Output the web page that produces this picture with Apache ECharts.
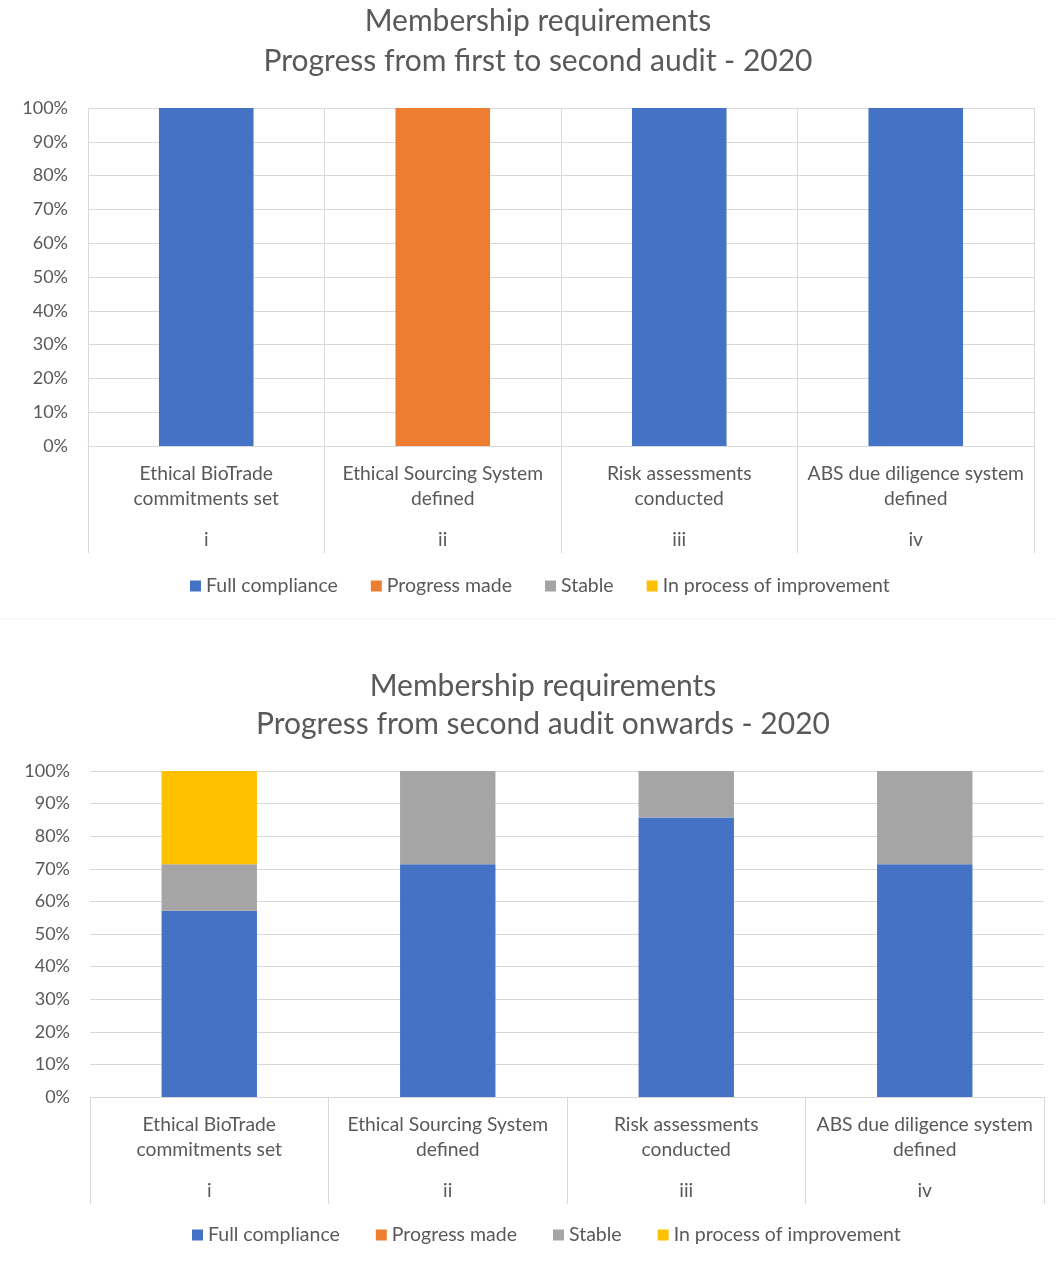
<!DOCTYPE html>
<html><head><meta charset="utf-8">
<script src="https://cdn.jsdelivr.net/npm/echarts@6/dist/echarts.min.js"></script>
<style>html,body{margin:0;padding:0;background:#fff}#c{width:1056px;height:1263px}</style>
</head><body><div id="c"></div>
<script>
const categories = ["Ethical BioTrade\ncommitments set","Ethical Sourcing System\ndefined","Risk assessments\nconducted","ABS due diligence system\ndefined"];
const romans = ["i","ii","iii","iv"];
const seriesNames = ["Full compliance","Progress made","Stable","In process of improvement"];
const colors = ["#4472C4","#ED7D31","#A5A5A5","#FFC000"];
const yTicks = [0,10,20,30,40,50,60,70,80,90,100];
// Chart 1: first to second audit
const c1Full = [100, null, 100, 100];
const c1Progress = [null, 100, null, null];
const c1Stable = [null, null, null, null];
const c1Improve = [null, null, null, null];
// Chart 2: second audit onwards
const c2Full = [57.14, 71.43, 85.71, 71.43];
const c2Progress = [null, null, null, null];
const c2Stable = [14.29, 28.57, 14.29, 28.57];
const c2Improve = [28.57, null, null, null];

const FONT = "Lato";
const TXT = "#595959";
const GRIDC = "#d9d9d9";

function xLabel(v, i) {
  const lines = v.split("\n").map(s => "{a|" + s + "}");
  return lines.join("\n") + "\n{b|" + romans[i] + "}";
}
function xAxis(gi, showSplit, margin) {
  return {
    type: "category", gridIndex: gi, data: categories,
    axisLine: {lineStyle: {color: GRIDC}},
    axisTick: {show: true, length: 107, lineStyle: {color: GRIDC}},
    splitLine: {show: showSplit, lineStyle: {color: GRIDC}},
    axisLabel: {interval: 0, margin: margin, formatter: xLabel,
      rich: {a: {fontFamily: FONT, fontSize: 19.3, color: TXT, lineHeight: 25},
             b: {fontFamily: FONT, fontSize: 19.3, color: TXT, lineHeight: 58}}}
  };
}
function yAxis(gi) {
  return {
    type: "value", gridIndex: gi, min: 0, max: 100, interval: 10,
    axisLine: {show: false}, axisTick: {show: false},
    splitLine: {lineStyle: {color: GRIDC}},
    axisLabel: {margin: 20, fontFamily: FONT, fontSize: 18, color: TXT,
      formatter: v => yTicks.includes(v) ? v + "%" : ""}
  };
}
function mk(name, data, ci, gi, stack) {
  return {name: name, type: "bar", xAxisIndex: gi, yAxisIndex: gi, stack: stack,
    data: data, barWidth: "40%", itemStyle: {color: colors[ci]}, emphasis: {disabled: true}};
}
const legendCommon = {icon: "rect", itemWidth: 11, itemHeight: 11, itemGap: 33, data: seriesNames,
  textStyle: {fontFamily: FONT, fontSize: 19.5, color: TXT}, selectedMode: false};

const option = {
  animation: false,
  title: [
    {text: "Membership requirements\nProgress from first to second audit - 2020", left: 533, top: -4, textAlign: "center",
     textStyle: {fontFamily: FONT, fontSize: 30, fontWeight: "normal", color: TXT, lineHeight: 40}},
    {text: "Membership requirements\nProgress from second audit onwards - 2020", left: 538, top: 662, textAlign: "center",
     textStyle: {fontFamily: FONT, fontSize: 30, fontWeight: "normal", color: TXT, lineHeight: 38}}
  ],
  legend: [
    Object.assign({}, legendCommon, {left: 185, top: 571}),
    Object.assign({}, legendCommon, {left: 187, top: 1220, itemGap: 36})
  ],
  grid: [
    {left: 88, right: 22, top: 108, height: 338},
    {left: 90, right: 12, top: 771, height: 326}
  ],
  xAxis: [xAxis(0, true, 15), xAxis(1, false, 15)],
  yAxis: [yAxis(0), yAxis(1)],
  graphic: [{type: "line", shape: {x1: 0, y1: 619, x2: 1056, y2: 619}, style: {stroke: "#f2f2f2", lineWidth: 1}}],
  series: [
    mk(seriesNames[0], c1Full, 0, 0, "s1"),
    mk(seriesNames[1], c1Progress, 1, 0, "s1"),
    mk(seriesNames[2], c1Stable, 2, 0, "s1"),
    mk(seriesNames[3], c1Improve, 3, 0, "s1"),
    mk(seriesNames[0], c2Full, 0, 1, "s2"),
    mk(seriesNames[1], c2Progress, 1, 1, "s2"),
    mk(seriesNames[2], c2Stable, 2, 1, "s2"),
    mk(seriesNames[3], c2Improve, 3, 1, "s2")
  ]
};
const chart = echarts.init(document.getElementById("c"), null, {renderer: "canvas"});
chart.setOption(option);
</script></body></html>
